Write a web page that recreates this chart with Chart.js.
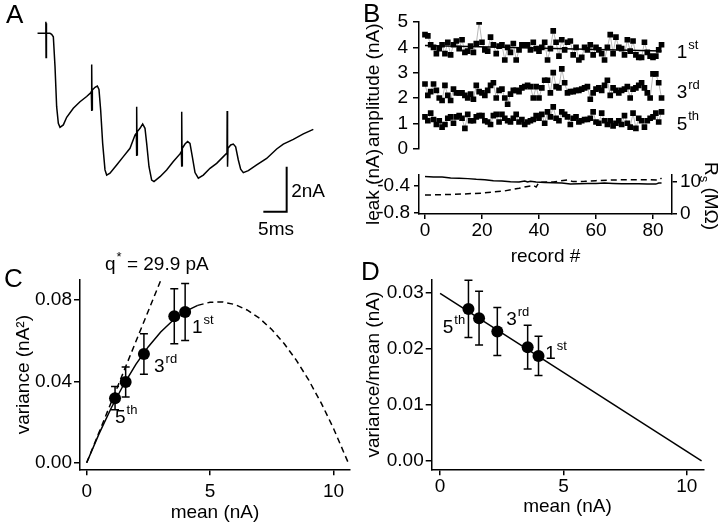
<!DOCTYPE html>
<html>
<head>
<meta charset="utf-8">
<script src="https://cdn.jsdelivr.net/npm/chart.js@4.4.1/dist/chart.umd.min.js"></script>
<style>
  body { margin:0; width:720px; height:524px; background:#fff; position:relative; overflow:hidden; }
  canvas { position:absolute; }
</style>
</head>
<body>
<canvas id="cA" width="360" height="250" style="left:0;top:0"></canvas>
<canvas id="cB1" width="360" height="165" style="left:360px;top:0"></canvas>
<canvas id="cB2" width="360" height="130" style="left:360px;top:140px"></canvas>
<canvas id="cC" width="360" height="274" style="left:0;top:250px"></canvas>
<canvas id="cD" width="360" height="274" style="left:360px;top:250px"></canvas>
<script>
// --- A: example trace (ms, nA)
const traceT = [0, 1.29, 1.79, 1.83, 1.87, 1.91, 1.95, 2.0, 2.71, 3.07, 3.43, 3.79, 4.14, 4.5, 4.86, 5.57, 6.29, 7.71,
  9.14, 10.57, 11.43, 11.57, 11.61, 11.65, 11.69, 11.73, 11.79, 12.36, 12.86, 13.21, 13.57, 14.0, 14.5, 14.86, 15.57, 17.0,
  18.43, 19.86, 20.93, 21.21, 21.25, 21.29, 21.33, 21.37, 21.43, 22.0, 22.57, 23.07, 23.43, 23.93, 24.5, 25.0, 26.29, 27.71,
  29.14, 30.57, 30.86, 30.9, 30.94, 30.98, 31.02, 31.07, 31.64, 32.21, 32.71, 33.21, 33.79, 34.5, 35.57, 37.0, 38.43, 39.86,
  40.57, 40.64, 40.68, 40.72, 40.76, 40.8, 40.86, 41.43, 42.0, 42.5, 43.07, 43.57, 44.14, 45.21, 47.0, 49.14, 51.29, 52.71,
  54.86, 57.0, 59.14];
const traceI = [0, 0, 0, 0.52, -1.07, 0.45, -1.0, 0, 0, -0.04, -0.15, -1.48, -3.26, -4.0, -4.18, -4.07, -3.73, -3.33,
  -3.04, -2.81, -2.64, -2.59, -1.38, -3.45, -1.45, -3.4, -2.52, -2.4, -2.34, -2.49, -3.41, -4.89, -6.07, -6.3, -6.22, -5.85,
  -5.48, -5.11, -4.52, -4.44, -3.26, -5.45, -3.32, -5.4, -4.37, -4.22, -4.03, -4.22, -4.89, -5.93, -6.52, -6.59, -6.37, -6.07,
  -5.7, -5.36, -5.26, -3.48, -5.93, -3.55, -5.88, -5.11, -4.92, -4.81, -4.89, -5.48, -6.19, -6.44, -6.3, -6.0, -5.78, -5.48,
  -5.33, -5.3, -3.45, -5.93, -3.5, -5.88, -5.11, -4.96, -4.92, -5.04, -5.63, -6.04, -6.19, -6.1, -5.85, -5.56, -5.14, -4.92,
  -4.71, -4.47, -4.27];
const barT = [48.43, 53.43, 53.43];
const barI = [-7.93, -7.93, -5.93];

// --- B: amplitudes per record (nA)
const amp1 = [4.5, 4.45, 4.1, 4.0, 3.75, 3.95, 4.1, 3.75, 4.2, 3.7, 4.1, 4.25, 3.95, 4.3, 3.8, 3.85, 4.05, 3.8, 4.15, 5.0,
  4.2, 3.9, 3.85, 4.4, 4.1, 3.75, 4.05, 4.1, 3.5, 4.0, 3.8, 4.15, 3.5, 3.9, 4.1, 4.1, 4.1, 3.9, 4.2, 3.95,
  3.85, 4.0, 4.2, 3.5, 3.95, 4.65, 4.2, 3.65, 4.3, 3.9, 4.2, 4.25, 3.7, 4.0, 3.5, 3.6, 4.0, 3.9, 4.1, 3.7,
  4.0, 3.9, 3.75, 3.5, 4.0, 4.5, 3.75, 4.4, 4.0, 3.95, 3.7, 4.3, 3.85, 4.25, 3.7, 3.6, 3.6, 4.2, 3.8, 3.65,
  3.6, 3.65, 3.9, 4.1];
const amp3 = [2.55, 2.1, 2.25, 2.55, 2.3, 2.0, 1.9, 2.5, 2.1, 1.9, 2.35, 2.2, 2.2, 2.2, 2.1, 2.0, 2.15, 1.95, 2.5, 2.25,
  2.2, 2.1, 2.3, 2.5, 2.6, 2.0, 2.3, 2.35, 2.0, 1.75, 2.15, 2.3, 2.3, 2.25, 2.4, 2.45, 2.5, 2.45, 2.0, 2.45,
  2.0, 2.4, 2.7, 2.7, 2.2, 3.0, 2.45, 2.4, 3.15, 2.6, 2.2, 2.25, 2.25, 2.3, 2.3, 2.35, 2.4, 2.45, 1.95, 2.2,
  2.35, 2.4, 2.3, 2.5, 2.7, 2.1, 2.4, 2.3, 2.2, 2.3, 2.35, 2.45, 2.0, 2.35, 2.4, 2.5, 2.6, 2.4, 2.2, 2.0,
  2.95, 2.95, 2.6, 2.0];
const amp5 = [1.25, 1.1, 1.4, 1.15, 0.95, 1.1, 0.85, 0.95, 1.2, 1.25, 1.0, 1.25, 1.3, 1.2, 0.8, 1.35, 1.1, 1.1, 1.25, 1.3,
  1.3, 1.1, 1.05, 0.95, 1.3, 1.35, 1.05, 1.35, 1.2, 1.1, 1.05, 1.2, 1.35, 1.05, 1.15, 0.95, 1.05, 1.1, 1.15, 1.3,
  1.2, 1.35, 1.0, 1.45, 1.25, 1.65, 1.2, 1.1, 1.45, 1.35, 1.25, 0.95, 1.2, 1.25, 1.05, 1.1, 1.15, 1.15, 1.2, 1.45,
  1.05, 1.0, 1.4, 1.1, 0.95, 1.1, 0.9, 1.0, 1.1, 0.95, 1.3, 1.0, 0.85, 1.4, 0.8, 1.2, 1.1, 0.85, 1.1, 1.2,
  1.25, 1.4, 1.05, 1.45];
const fit1Rec = [0, 83];
const fit1Amp = [4.07, 3.85];
// leak (nA) and series resistance (MOhm)
const leakRec = [0, 3, 6, 9, 12, 15, 18, 21, 24, 27, 30, 33, 35, 36, 37, 39, 42, 45, 48, 51, 54, 57, 60, 63, 66, 69, 72, 75, 78, 81, 82, 83];
const leakVal = [-0.265, -0.27, -0.272, -0.285, -0.29, -0.295, -0.305, -0.31, -0.325, -0.33, -0.34, -0.345, -0.33, -0.345, -0.335, -0.345,
  -0.35, -0.355, -0.36, -0.375, -0.37, -0.365, -0.365, -0.36, -0.365, -0.37, -0.37, -0.37, -0.375, -0.375, -0.36, -0.36];
const rsRec = [0, 10, 20, 28, 33, 36, 38, 39, 40, 45, 50, 52, 56, 60, 66, 72, 78, 82, 83];
const rsVal = [5.7, 5.9, 6.3, 7.0, 7.8, 8.4, 8.7, 8.2, 9.7, 9.8, 10.4, 9.9, 10.0, 10.2, 10.4, 10.5, 10.5, 10.4, 11.0];

// --- C and D: 1st..5th responses
const meanAmp = [3.99, 3.55, 2.32, 1.58, 1.15];
const variance = [0.0742, 0.0721, 0.0535, 0.0397, 0.0318];
const varErr = [0.014, 0.0135, 0.010, 0.0074, 0.0057];
const varMean = [0.01875, 0.0203, 0.0231, 0.02548, 0.02714];
const varMeanErr = [0.0035, 0.0039, 0.0043, 0.0048, 0.0051];
const fitX = [0, 0.5, 1, 1.5, 2, 2.5, 3, 3.5, 4, 4.5, 5, 5.5, 6, 6.5, 7, 7.5, 8, 8.5, 9, 9.5, 10, 10.6];
const fitY = [0, 0.01424, 0.02708, 0.0385, 0.04852, 0.05712, 0.06431, 0.0701, 0.07446, 0.07743, 0.07898,
  0.07912, 0.07786, 0.07517, 0.07108, 0.06559, 0.05867, 0.05035, 0.04061, 0.02948, 0.01692, 0];
const qLineX = [0, 3.0];
const qLineY = [0, 0.0897];
const lineDX = [0, 10.6];
const lineDY = [0.0299, 0];

const FONT = "'Liberation Sans', Arial, sans-serif";
Chart.defaults.font.family = FONT;
Chart.defaults.font.size = 19;
Chart.defaults.color = '#000';

const pts = (xs, ys) => xs.map((v, i) => ({ x: v, y: ys[i] }));

// text labels with superscript / subscript (items kept in a closure)
function notes(items) {
  return {
    id: 'notes',
    afterDraw(chart) {
      const ctx = chart.ctx;
      items.forEach(it => {
        let x, y;
        if (it.at) {
          x = chart.scales.x.getPixelForValue(it.at[0]);
          y = chart.scales.y.getPixelForValue(it.at[1]);
        } else {
          x = it.px[0]; y = it.px[1];
        }
        const size = it.size || 19;
        const small = it.small || 13;
        ctx.save();
        ctx.translate(x, y);
        if (it.rotate) ctx.rotate(it.rotate);
        ctx.fillStyle = '#000';
        ctx.textAlign = 'left';
        ctx.textBaseline = 'alphabetic';
        ctx.font = size + 'px ' + FONT;
        const w = ctx.measureText(it.text).width;
        const wt = it.tail ? ctx.measureText(it.tail).width : 0;
        ctx.font = small + 'px ' + FONT;
        const ws = it.sup ? ctx.measureText(it.sup).width : 0;
        const wb = it.sub ? ctx.measureText(it.sub).width : 0;
        let x0 = it.center ? -(w + ws + wb + wt) / 2 : 0;
        ctx.font = size + 'px ' + FONT;
        ctx.fillText(it.text, x0, 0);
        x0 += w;
        ctx.font = small + 'px ' + FONT;
        if (it.sup) { ctx.fillText(it.sup, x0 + 1, -size * 0.48); x0 += ws + 1; }
        if (it.sub) { ctx.fillText(it.sub, x0, size * 0.28); x0 += wb; }
        ctx.font = size + 'px ' + FONT;
        if (it.tail) ctx.fillText(it.tail, x0, 0);
        ctx.restore();
      });
    }
  };
}

// vertical error bars with caps
function errbars(xv, yv, ev) {
  return {
    id: 'errbars',
    beforeDatasetsDraw(chart) {
      const { ctx, scales: { x, y } } = chart;
      ctx.save();
      ctx.strokeStyle = '#000';
      ctx.lineWidth = 1.5;
      xv.forEach((v, i) => {
        const px = x.getPixelForValue(v);
        const lo = y.getPixelForValue(yv[i] - ev[i]);
        const hi = y.getPixelForValue(yv[i] + ev[i]);
        ctx.beginPath();
        ctx.moveTo(px, lo); ctx.lineTo(px, hi);
        ctx.moveTo(px - 4, lo); ctx.lineTo(px + 4, lo);
        ctx.moveTo(px - 4, hi); ctx.lineTo(px + 4, hi);
        ctx.stroke();
      });
      ctx.restore();
    }
  };
}

function axis(o) {
  const cfg = {
    type: 'linear',
    position: o.position,
    min: o.min, max: o.max,
    border: { display: true, color: '#000', width: 1.5 },
    grid: { display: true, drawOnChartArea: false, drawTicks: true, tickLength: o.tl || 6, color: '#000', lineWidth: 1.5 },
    ticks: { padding: o.pad || 0, color: '#000', font: { size: 19 },
      callback: (v, i) => o.labels[i] },
    afterBuildTicks: s => { s.ticks = o.ticks.map(v => ({ value: v })); },
    afterFit: s => {
      if (o.width !== undefined) s.width = o.width;
      if (o.height !== undefined) s.height = o.height;
    }
  };
  if (o.title) cfg.title = { display: true, text: o.title, color: '#000', font: { size: 19 }, padding: o.titlePad || { top: 0, bottom: 0 } };
  return cfg;
}

const base = (padding) => ({
  animation: false, responsive: false, devicePixelRatio: 1,
  layout: { padding },
  plugins: { legend: { display: false }, tooltip: { enabled: false } }
});

// ---------- A
{
  const opt = base({ left: 37.33, right: 42.67, top: 10.83, bottom: 14.17 });
  opt.scales = { x: { type: 'linear', display: false, min: 0, max: 60 }, y: { display: false, min: -9, max: 1 } };
  new Chart(document.getElementById('cA'), {
    type: 'scatter',
    data: { datasets: [
      { data: pts(traceT, traceI), showLine: true, borderColor: '#000', borderWidth: 1.5, pointRadius: 0 },
      { data: pts(barT, barI), showLine: true, borderColor: '#000', borderWidth: 2, pointRadius: 0 }
    ] },
    options: opt,
    plugins: [notes([
      { px: [6, 23], text: 'A', size: 26 },
      { at: [54.4, -7.27], text: '2nA' },
      { at: [47.3, -8.96], text: '5ms' }
    ])]
  });
}

// ---------- B top: amplitudes
{
  const rec = amp1.map((v, i) => i);
  const opt = base({ left: 0, right: 48, top: 22, bottom: 10 });
  opt.scales = {
    x: { type: 'linear', display: false, min: -2.1, max: 86.67 },
    y: axis({ position: 'left', min: 0, max: 5, ticks: [0, 1, 2, 3, 4, 5], labels: ['0', '1', '2', '3', '4', '5'],
      tl: 6, pad: 5, width: 59, title: 'amplitude (nA)', titlePad: { top: 2, bottom: 0 } })
  };
  const sq = (d) => ({ data: pts(rec, d), showLine: true, borderColor: '#b8b8b8', borderWidth: 1,
    pointStyle: 'rect', pointRadius: 4, pointBackgroundColor: '#000', pointBorderWidth: 0 });
  new Chart(document.getElementById('cB1'), {
    type: 'scatter',
    data: { datasets: [
      { data: pts(fit1Rec, fit1Amp), showLine: true, borderColor: '#000', borderWidth: 1.5, pointRadius: 0 },
      sq(amp1), sq(amp3), sq(amp5)
    ] },
    options: opt,
    plugins: [notes([
      { px: [3, 22], text: 'B', size: 26 },
      { at: [88.3, 3.57], text: '1', sup: 'st' },
      { at: [88.3, 2.0], text: '3', sup: 'rd' },
      { at: [88.3, 0.75], text: '5', sup: 'th' }
    ])]
  });
}

// ---------- B bottom: leak and Rs
{
  const opt = base({ left: 0, right: 0, top: 35.2, bottom: 0 });
  opt.scales = {
    x: axis({ position: 'bottom', min: -2.1, max: 86.67, ticks: [0, 20, 40, 60, 80], labels: ['0', '20', '40', '60', '80'],
      tl: 5, pad: 0, height: 56.1, title: 'record #', titlePad: { top: 0, bottom: 2 } }),
    y: axis({ position: 'left', min: -0.81, max: -0.245, ticks: [-0.8, -0.6, -0.4], labels: ['-0.8', '', '-0.4'],
      tl: 5, pad: 4, width: 59 }),
    y2: axis({ position: 'right', min: -0.19, max: 11.9, ticks: [0, 5, 10], labels: ['0', '', '10'],
      tl: 5, pad: 3, width: 48 })
  };
  new Chart(document.getElementById('cB2'), {
    type: 'scatter',
    data: { datasets: [
      { data: pts(leakRec, leakVal), showLine: true, borderColor: '#000', borderWidth: 1.5, pointRadius: 0, yAxisID: 'y' },
      { data: pts(rsRec, rsVal), showLine: true, borderColor: '#000', borderWidth: 1.5, borderDash: [6, 4], pointRadius: 0, yAxisID: 'y2' }
    ] },
    options: opt,
    plugins: [notes([
      { px: [19, 47], text: 'leak (nA)', rotate: -Math.PI / 2, center: true },
      { px: [345, 56], text: 'R', sub: 's', tail: ' (M\u03A9)', rotate: Math.PI / 2, center: true }
    ])]
  });
}

// ---------- C: variance vs mean
{
  const opt = base({ left: 0, right: 10, top: 30, bottom: 0 });
  opt.scales = {
    x: axis({ position: 'bottom', min: -0.27, max: 10.67, ticks: [0, 5, 10], labels: ['0', '5', '10'],
      tl: 6, pad: 5, height: 54.7, title: 'mean (nA)', titlePad: { top: 0, bottom: 0 } }),
    y: axis({ position: 'left', min: -0.0032, max: 0.0899, ticks: [0, 0.04, 0.08], labels: ['0.00', '0.04', '0.08'],
      tl: 6, pad: 2, width: 80, title: 'variance (nA\u00B2)', titlePad: { top: 12, bottom: 0 } })
  };
  const split = fitX.indexOf(4.5);
  new Chart(document.getElementById('cC'), {
    type: 'scatter',
    data: { datasets: [
      { data: pts(meanAmp, variance), pointRadius: 6, pointBackgroundColor: '#000', pointBorderWidth: 0 },
      { data: pts(fitX.slice(0, split + 1), fitY.slice(0, split + 1)), showLine: true, borderColor: '#000', borderWidth: 1.5, pointRadius: 0 },
      { data: pts(fitX.slice(split), fitY.slice(split)), showLine: true, borderColor: '#000', borderWidth: 1.5, borderDash: [6, 4], pointRadius: 0 },
      { data: pts(qLineX, qLineY), showLine: true, borderColor: '#000', borderWidth: 1.5, borderDash: [6, 4], pointRadius: 0 }
    ] },
    options: opt,
    plugins: [errbars(meanAmp, variance, varErr), notes([
      { px: [4, 37], text: 'C', size: 26 },
      { px: [105, 20], text: 'q', sup: '*', tail: ' = 29.9 pA' },
      { at: [4.27, 0.0637], text: '1', sup: 'st' },
      { at: [2.73, 0.0448], text: '3', sup: 'rd' },
      { at: [1.15, 0.0194], text: '5', sup: 'th' }
    ])]
  });
}

// ---------- D: variance/mean vs mean
{
  const opt = base({ left: 0, right: 16.7, top: 30, bottom: 0 });
  opt.scales = {
    x: axis({ position: 'bottom', min: -0.34, max: 10.67, ticks: [0, 5, 10], labels: ['0', '5', '10'],
      tl: 6, pad: 0, height: 54.7, title: 'mean (nA)', titlePad: { top: 0, bottom: 6 } }),
    y: axis({ position: 'left', min: -0.0015, max: 0.0323, ticks: [0, 0.01, 0.02, 0.03], labels: ['0.00', '0.01', '0.02', '0.03'],
      tl: 6, pad: 2, width: 71.7, title: 'variance/mean (nA)', titlePad: { top: 2, bottom: 0 } })
  };
  new Chart(document.getElementById('cD'), {
    type: 'scatter',
    data: { datasets: [
      { data: pts(meanAmp, varMean), pointRadius: 6, pointBackgroundColor: '#000', pointBorderWidth: 0 },
      { data: pts(lineDX, lineDY), showLine: true, borderColor: '#000', borderWidth: 1.5, pointRadius: 0 }
    ] },
    options: opt,
    plugins: [errbars(meanAmp, varMean, varMeanErr), notes([
      { px: [1, 30], text: 'D', size: 26 },
      { at: [0.11, 0.0228], text: '5', sup: 'th' },
      { at: [2.68, 0.0243], text: '3', sup: 'rd' },
      { at: [4.26, 0.0182], text: '1', sup: 'st' }
    ])]
  });
}
</script>
</body>
</html>
